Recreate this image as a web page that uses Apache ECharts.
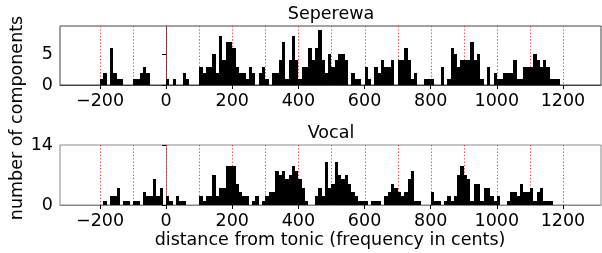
<!DOCTYPE html>
<html>
<head>
<meta charset="utf-8">
<script src="https://cdn.jsdelivr.net/npm/echarts@6/dist/echarts.min.js"></script>
<style>html,body{margin:0;padding:0;background:#fff;}#c{width:602px;height:253px;}</style>
</head>
<body>
<div id="c"></div>
<script>
// bin starts (cents), bin width 10
const binStarts = [-200,-190,-180,-170,-160,-150,-140,-130,-120,-110,
 -100,-90,-80,-70,-60,-50,-40,-30,-20,-10,
 0,10,20,30,40,50,60,70,80,90,
 100,110,120,130,140,150,160,170,180,190,
 200,210,220,230,240,250,260,270,280,290,
 300,310,320,330,340,350,360,370,380,390,
 400,410,420,430,440,450,460,470,480,490,
 500,510,520,530,540,550,560,570,580,590,
 600,610,620,630,640,650,660,670,680,690,
 700,710,720,730,740,750,760,770,780,790,
 800,810,820,830,840,850,860,870,880,890,
 900,910,920,930,940,950,960,970,980,990,
 1000,1010,1020,1030,1040,1050,1060,1070,1080,1090,
 1100,1110,1120,1130,1140,1150,1160,1170,1180,1190];
const binWidth = 10;

const seperewaCounts = [1,2,0,6,2,1,1,0,0,0,
 1,1,2,3,2,0,0,0,0,0,
 1,0,1,0,0,2,1,0,0,0,
 3,2,3,3,5,2,8,4,7,7,
 6,3,2,2,1,3,2,0,2,3,
 1,0,2,2,4,7,1,4,8,4,
 1,3,3,6,4,6,9,4,2,5,
 3,4,5,5,4,0,2,1,1,0,
 3,1,0,3,2,4,3,3,4,0,
 4,4,6,4,1,2,0,0,1,1,
 1,0,0,3,0,1,6,5,3,4,
 4,4,7,4,5,1,0,3,0,2,
 1,1,2,2,2,4,1,1,3,3,
 3,5,4,3,4,3,1,1,1,0];

const vocalCounts = [0,1,0,2,2,4,0,1,1,0,
 1,1,0,3,2,2,6,2,4,0,
 2,1,0,2,1,1,0,0,0,0,
 2,1,2,2,7,2,4,4,9,9,
 9,5,3,2,2,0,1,2,0,1,
 2,3,3,8,7,8,6,7,9,8,
 6,4,1,0,0,2,4,2,10,4,
 5,10,7,6,7,5,3,2,1,1,
 1,0,1,1,1,0,2,3,5,4,
 3,2,3,6,8,1,1,0,0,0,
 3,1,1,0,1,2,1,2,7,9,
 7,6,1,5,5,1,4,4,2,1,
 2,0,0,1,3,3,2,5,3,3,
 4,1,3,4,1,1,1,0,0,0];

const xTicks = [-200,0,200,400,600,800,1000,1200];
const refLines = [-200,-100,0,100,200,300,400,500,600,700,800,900,1000,1100,1200];
const topYTicks = [0,5];
const bottomYTicks = [0,14];
const titles = ['Seperewa','Vocal'];
const xLabel = 'distance from tonic (frequency in cents)';
const yLabel = 'number of components';

const FONT = 'DejaVu Sans';
const FS = 17.5;
const chart = echarts.init(document.getElementById('c'), null, {renderer:'canvas'});

function renderItem(params, api){
  const x0 = api.value(0), y = api.value(1);
  if (!y) return null;
  const p0 = api.coord([x0, y]);
  const p1 = api.coord([x0 + binWidth, 0]);
  const xa = Math.round(p0[0]), xb = Math.round(p1[0]);
  const ya = Math.round(p0[1]), yb = p1[1];
  return {type:'rect', shape:{x:xa, y:ya, width:xb-xa, height:yb-ya}, style:{fill:'#000'}};
}
function renderRefLine(params, api){
  const x = api.value(0);
  const top = params.coordSys.y, bottom = params.coordSys.y + params.coordSys.height;
  const px = Math.round(api.coord([x, 0])[0]) + 0.5;
  return {type:'line', shape:{x1:px, y1:top, x2:px, y2:bottom},
    style:{stroke:'#ff2020', lineWidth:1, lineDash:[1.3,2], opacity:0.85}};
}
const mkData = arr => binStarts.map((b,i)=>[b, arr[i]]);
const refData = refLines.map(v=>[v, 0]);

function xAxisCfg(gi, col){
  return {type:'value', gridIndex:gi, min:-321, max:1315,
    axisLine:{show:true, lineStyle:{color:col, width:1}},
    axisTick:{show:true, inside:false, length:4, customValues:xTicks, lineStyle:{color:'#000'}},
    axisLabel:{show:true, customValues:xTicks, margin:7, color:'#000', fontSize:FS, fontFamily:FONT,
      formatter:v=> (v<0? '\u2212'+Math.abs(v) : String(v))},
    splitLine:{show:false}};
}
function yAxisCfg(gi, max, ticks, col){
  return {type:'value', gridIndex:gi, min:0, max:max,
    axisLine:{show:true, lineStyle:{color:col}},
    axisTick:{show:true, length:4, customValues:ticks, lineStyle:{color:'#000'}},
    axisLabel:{show:true, customValues:ticks, margin:7, color:'#000', fontSize:FS, fontFamily:FONT},
    splitLine:{show:false}};
}

chart.setOption({
  animation:false,
  grid:[
    {left:60, top:26, width:541, height:59, show:true, borderColor:'#444', borderWidth:1},
    {left:60, top:145, width:541, height:60, show:true, borderColor:'#888', borderWidth:1}
  ],
  xAxis:[xAxisCfg(0,'#444'), xAxisCfg(1,'#888')],
  yAxis:[yAxisCfg(0, 9.6, topYTicks,'#444'), yAxisCfg(1, 14, bottomYTicks,'#888')],
  series:[
    {type:'custom', xAxisIndex:0, yAxisIndex:0, data:refData, renderItem:renderRefLine, z:1, silent:true},
    {type:'custom', xAxisIndex:0, yAxisIndex:0, data:mkData(seperewaCounts), renderItem:renderItem, z:5},
    {type:'custom', xAxisIndex:1, yAxisIndex:1, data:refData, renderItem:renderRefLine, z:1, silent:true},
    {type:'custom', xAxisIndex:1, yAxisIndex:1, data:mkData(vocalCounts), renderItem:renderItem, z:5}
  ],
  graphic:[
    {type:'text', style:{text:titles[0], x:331, y:14, fill:'#000', font:FS+'px "DejaVu Sans"', align:'center', verticalAlign:'middle'}},
    {type:'text', style:{text:titles[1], x:331, y:133, fill:'#000', font:FS+'px "DejaVu Sans"', align:'center', verticalAlign:'middle'}},
    {type:'text', style:{text:xLabel, x:330, y:240, fill:'#000', font:FS+'px "DejaVu Sans"', align:'center', verticalAlign:'middle'}},
    {type:'text', rotation:Math.PI/2, x:17, y:118, style:{text:yLabel, x:0, y:0, fill:'#000', font:FS+'px "DejaVu Sans"', align:'center', verticalAlign:'middle'}}
  ]
});
</script>
</body>
</html>
